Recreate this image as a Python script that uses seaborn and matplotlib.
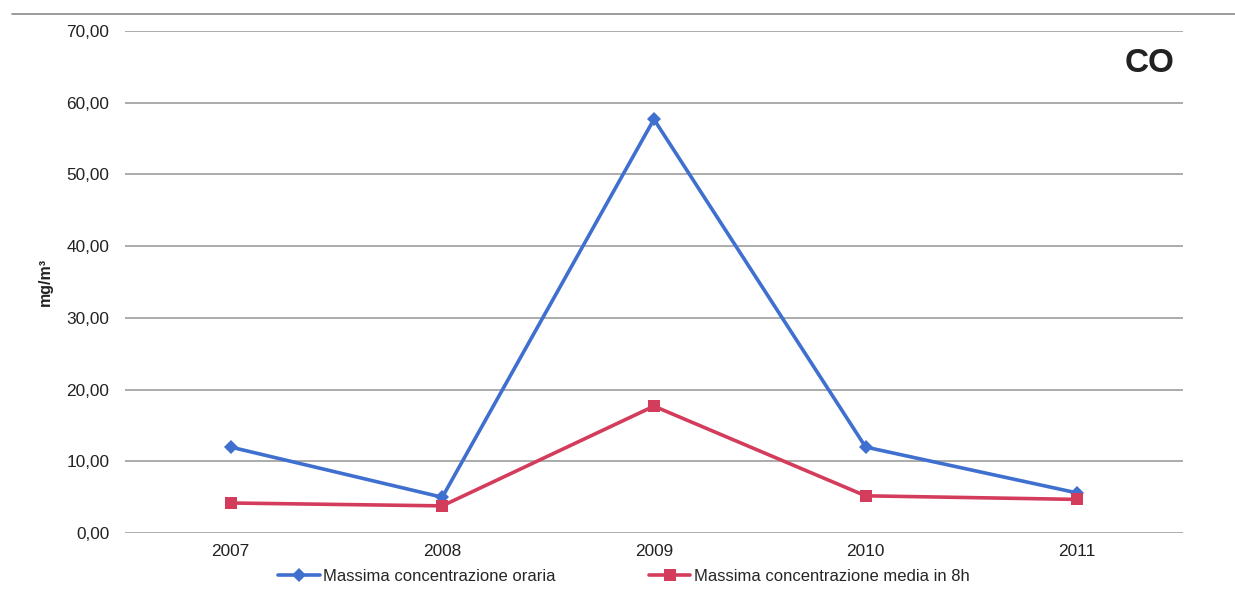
import matplotlib
matplotlib.use("Agg")
import matplotlib.pyplot as plt
import seaborn as sns
import pandas as pd
from matplotlib.lines import Line2D
from matplotlib.ticker import FuncFormatter

years = ["2007", "2008", "2009", "2010", "2011"]
oraria = [12.0, 5.0, 57.7, 12.0, 5.6]
media8h = [4.2, 3.8, 17.7, 5.2, 4.7]
series_names = ["Massima concentrazione oraria", "Massima concentrazione media in 8h"]
y_ticks = [0, 10, 20, 30, 40, 50, 60, 70]

sns.set_theme(style="white")
plt.rcParams['font.family'] = ['Liberation Sans', 'DejaVu Sans']

df = pd.DataFrame({
    "anno": years * 2,
    "valore": oraria + media8h,
    "serie": [series_names[0]] * len(years) + [series_names[1]] * len(years),
})

fig = plt.figure(figsize=(12.35, 5.97), dpi=100)
ax = fig.add_axes([0.101, 0.107, 0.857, 0.841])

palette = {series_names[0]: "#3f6fcf", series_names[1]: "#d43c5c"}
markers = {series_names[0]: "D", series_names[1]: "s"}
sns.lineplot(data=df, x="anno", y="valore", hue="serie", style="serie",
             palette=palette, markers=markers, dashes=False, linewidth=2.6,
             markersize=9, markeredgewidth=0, sort=False, ax=ax, legend=False)
for line in ax.get_lines():
    if line.get_marker() == "D":
        line.set_markersize(7.5)

ax.set_ylim(0, 70)
ax.set_xlim(-0.5, len(years) - 0.5)
ax.set_yticks(y_ticks)
ax.yaxis.set_major_formatter(FuncFormatter(lambda v, p: f"{v:.2f}".replace(".", ",")))
ax.grid(axis="y", color="#949494", linewidth=1.1)
ax.grid(axis="x", visible=False)
ax.set_axisbelow(True)
for s in ax.spines.values():
    s.set_visible(False)
ax.tick_params(axis="both", length=0, labelsize=12.4, colors="#222222", pad=11)
ax.tick_params(axis="x", pad=8)
ax.set_xlabel("")
ax.set_ylabel("mg/m³", fontsize=11.5, fontweight="bold", color="#222222", labelpad=10)

ax.text(0.992, 0.936, "CO", transform=ax.transAxes, ha="right", va="center",
        fontsize=24, fontweight="bold", color="#222222")

handles = [Line2D([], [], color=palette[n], marker=markers[n], linewidth=2.6,
                  markersize=7.5 if markers[n] == "D" else 9, markeredgewidth=0)
           for n in series_names]
fig.legend(handles, series_names, loc="center", bbox_to_anchor=(0.505, 0.035),
           ncol=2, frameon=False, fontsize=12, handlelength=2.5,
           handletextpad=0.2, columnspacing=5.6)

fig.add_artist(Line2D([0.01, 1.0], [0.977, 0.977], transform=fig.transFigure,
                      color="#8a8a8a", linewidth=1.2))

fig.savefig("out.png", dpi=100, facecolor="white")
